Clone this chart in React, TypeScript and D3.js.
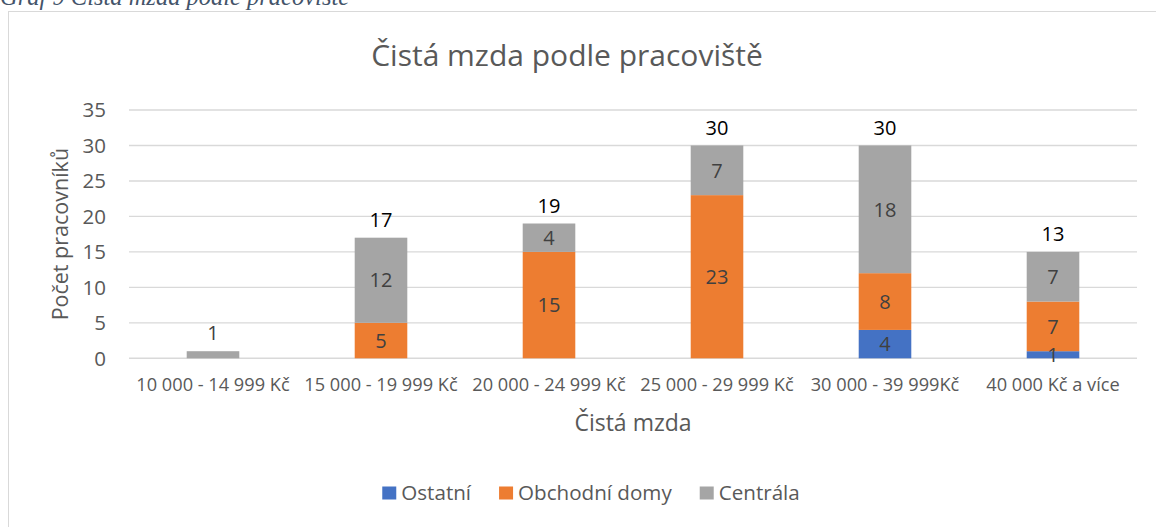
import * as React from "react";
import * as d3 from "d3";

// category labels (x axis)
const categories = [
  "10 000 - 14 999 Kč",
  "15 000 - 19 999 Kč",
  "20 000 - 24 999 Kč",
  "25 000 - 29 999 Kč",
  "30 000 - 39 999Kč",
  "40 000 Kč a více",
];

// series values
const ostatni = [0, 0, 0, 0, 4, 1];
const obchodniDomy = [0, 5, 15, 23, 8, 7];
const centrala = [1, 12, 4, 7, 18, 7];

// total labels as printed above the bars
const totals = [1, 17, 19, 30, 30, 13];

const seriesNames = ["Ostatní", "Obchodní domy", "Centrála"];
const seriesColors = ["#4472C4", "#ED7D31", "#A5A5A5"];

const yTicks = [0, 5, 10, 15, 20, 25, 30, 35];

const FONT = "'Open Sans', sans-serif";

export default function App() {
  const ref = React.useRef<SVGSVGElement>(null);

  React.useEffect(() => {
    const width = 1156;
    const height = 527;
    const margin = {top: 110, right: 19, bottom: 169, left: 129};

    const svg = d3.select(ref.current);
    svg.selectAll("*").remove();

    // caption above the chart frame (cut off by the page top)
    svg.append("text")
      .attr("x", 0)
      .attr("y", 5)
      .attr("font-family", "'Liberation Serif', serif")
      .attr("font-style", "italic")
      .attr("font-size", 24.5)
      .attr("fill", "#44546A")
      .text("Graf 9 Čistá mzda podle pracoviště");

    // chart frame
    svg.append("rect")
      .attr("x", 8.5)
      .attr("y", 11.5)
      .attr("width", 1300)
      .attr("height", 700)
      .attr("fill", "#fff")
      .attr("stroke", "#D9D9D9");

    const rows = categories.map((c, i) => ({
      cat: c,
      "Ostatní": ostatni[i],
      "Obchodní domy": obchodniDomy[i],
      "Centrála": centrala[i],
      total: totals[i],
    }));

    const x = d3.scaleBand()
      .domain(categories)
      .range([margin.left, width - margin.right])
      .paddingInner(0.687)
      .paddingOuter(0.3435);

    const y = d3.scaleLinear()
      .domain([0, 35])
      .range([height - margin.bottom + 0.3, margin.top]);

    // gridlines
    svg.append("g")
      .selectAll("line")
      .data(yTicks)
      .enter()
      .append("line")
      .attr("x1", margin.left)
      .attr("x2", width - margin.right)
      .attr("y1", d => y(d))
      .attr("y2", d => y(d))
      .attr("stroke", "#D9D9D9")
      .attr("stroke-width", 1.4);

    // y tick labels
    svg.append("g")
      .selectAll("text")
      .data(yTicks)
      .enter()
      .append("text")
      .attr("x", 106)
      .attr("y", d => y(d))
      .attr("dy", "0.36em")
      .attr("text-anchor", "end")
      .attr("font-family", FONT)
      .attr("font-size", 20.5)
      .attr("fill", "#595959")
      .text(d => d);

    // stacked bars
    const stack = d3.stack<any>().keys(seriesNames);
    const layers = stack(rows);

    svg.append("g")
      .selectAll("g")
      .data(layers)
      .enter()
      .append("g")
      .attr("fill", (d, i) => seriesColors[i])
      .selectAll("rect")
      .data(d => d.filter(s => s[1] - s[0] > 0))
      .enter()
      .append("rect")
      .attr("x", d => x(d.data.cat)!)
      .attr("width", x.bandwidth())
      .attr("y", d => y(d[1]))
      .attr("height", d => y(d[0]) - y(d[1]));

    // segment value labels, drawn over all bars
    // (a segment that is the whole stack is labelled by its total only)
    const segs = layers.flatMap(l => l.filter(s => s[1] - s[0] > 0 && s[1] - s[0] !== s.data.total));
    svg.append("g")
      .selectAll("text")
      .data(segs)
      .enter()
      .append("text")
      .attr("x", d => x(d.data.cat)! + x.bandwidth() / 2)
      .attr("y", d => (y(d[0]) + y(d[1])) / 2)
      .attr("dy", "0.36em")
      .attr("text-anchor", "middle")
      .attr("font-family", FONT)
      .attr("font-size", 20)
      .attr("fill", "#404040")
      .text(d => d[1] - d[0]);

    // total labels above each stack
    const top = layers[layers.length - 1];
    svg.append("g")
      .selectAll("text")
      .data(top)
      .enter()
      .append("text")
      .attr("x", d => x(d.data.cat)! + x.bandwidth() / 2)
      .attr("y", d => y(d[1]) - 18)
      .attr("dy", "0.36em")
      .attr("text-anchor", "middle")
      .attr("font-family", FONT)
      .attr("font-size", 20)
      .attr("fill", (d, i) => (i === 0 ? "#404040" : "#000"))
      .text(d => d.data.total);

    // x tick labels
    svg.append("g")
      .selectAll("text")
      .data(categories)
      .enter()
      .append("text")
      .attr("x", d => x(d)! + x.bandwidth() / 2)
      .attr("y", 384)
      .attr("dy", "0.36em")
      .attr("text-anchor", "middle")
      .attr("font-family", FONT)
      .attr("font-size", 18.2)
      .attr("fill", "#595959")
      .text(d => d);

    // title
    svg.append("text")
      .attr("x", 567)
      .attr("y", 55)
      .attr("dy", "0.36em")
      .attr("text-anchor", "middle")
      .attr("font-family", FONT)
      .attr("font-size", 30)
      .attr("fill", "#595959")
      .text("Čistá mzda podle pracoviště");

    // axis titles
    svg.append("text")
      .attr("x", (margin.left + width - margin.right) / 2)
      .attr("y", 423)
      .attr("dy", "0.36em")
      .attr("text-anchor", "middle")
      .attr("font-family", FONT)
      .attr("font-size", 23)
      .attr("fill", "#595959")
      .text("Čistá mzda");

    svg.append("text")
      .attr("transform", `translate(60,${(y(0) + y(35)) / 2}) rotate(-90)`)
      .attr("dy", "0.36em")
      .attr("text-anchor", "middle")
      .attr("font-family", FONT)
      .attr("font-size", 21.5)
      .attr("fill", "#595959")
      .text("Počet pracovníků");

    // legend
    const legend = svg.append("g");
    let lx = 0;
    seriesNames.forEach((name, i) => {
      const item = legend.append("g").attr("transform", `translate(${lx},0)`);
      item.append("rect")
        .attr("x", 0)
        .attr("y", -6.5)
        .attr("width", 14)
        .attr("height", 13)
        .attr("fill", seriesColors[i]);
      const t = item.append("text")
        .attr("x", 19)
        .attr("y", 0)
        .attr("dy", "0.36em")
        .attr("font-family", FONT)
        .attr("font-size", 20.6)
        .attr("fill", "#595959")
        .text(name);
      const w = (t.node() as SVGTextElement).getComputedTextLength();
      lx += 19 + w + 28;
    });
    const legendWidth = lx - 28;
    legend.attr("transform", `translate(${591 - legendWidth / 2},493)`);
  }, []);

  return (
    <svg
      ref={ref}
      width={1156}
      height={527}
      style={{position: "absolute", left: 0, top: 0, background: "#fff"}}
    />
  );
}
